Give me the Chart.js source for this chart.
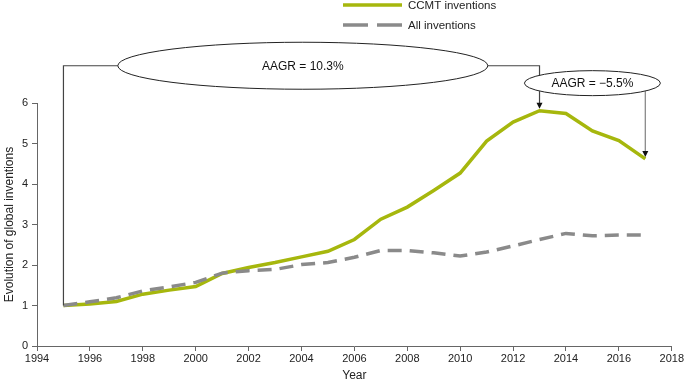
<!DOCTYPE html>
<html>
<head>
<meta charset="utf-8">
<script src="https://cdn.jsdelivr.net/npm/chart.js@4.4.1/dist/chart.umd.min.js"></script>
<style>
  body { margin: 0; background: #fff; }
  #wrap { width: 685px; height: 383px; position: relative; }
</style>
</head>
<body>
<div id="wrap"><canvas id="inv-chart"></canvas></div>
<script>
// datos (índice, 1995 = 1)
const years = [1995, 1996, 1997, 1998, 1999, 2000, 2001, 2002, 2003, 2004, 2005, 2006,
  2007, 2008, 2009, 2010, 2011, 2012, 2013, 2014, 2015, 2016, 2017];
const ccmt = [1.00, 1.04, 1.10, 1.28, 1.38, 1.47, 1.79, 1.94, 2.06, 2.20, 2.34, 2.63,
  3.13, 3.43, 3.84, 4.27, 5.06, 5.53, 5.81, 5.74, 5.31, 5.07, 4.62];
const allInv = [1.00, 1.09, 1.19, 1.36, 1.46, 1.57, 1.80, 1.86, 1.89, 2.01, 2.06, 2.19,
  2.36, 2.36, 2.30, 2.22, 2.32, 2.47, 2.63, 2.78, 2.72, 2.74, 2.74];
const seriesNames = ["CCMT inventions", "All inventions"];
const aagrLabels = ["AAGR = 10.3%", "AAGR = \u22125.5%"];

const green = "#a6b70d";
const grey = "#8a8a8a";
const FONT = "'Liberation Sans', Arial, sans-serif";

// flecha hacia abajo
function arrowDown(ctx, x, yTip) {
  ctx.beginPath();
  ctx.moveTo(x, yTip);
  ctx.lineTo(x - 3, yTip - 6);
  ctx.lineTo(x + 3, yTip - 6);
  ctx.closePath();
  ctx.fillStyle = "#111";
  ctx.fill();
}

function ellipse(ctx, cx, cy, rx, ry, label) {
  ctx.beginPath();
  ctx.ellipse(cx, cy, rx, ry, 0, 0, Math.PI * 2);
  ctx.fillStyle = "#fff";
  ctx.fill();
  ctx.lineWidth = 1;
  ctx.strokeStyle = "#222";
  ctx.stroke();
  ctx.fillStyle = "#111";
  ctx.font = "12px " + FONT;
  ctx.textAlign = "center";
  ctx.textBaseline = "middle";
  ctx.fillText(label, cx, cy + 0.5);
}

const annotations = {
  id: "annotations",
  afterDatasetsDraw(chart) {
    const { ctx, scales: { x, y } } = chart;
    const last = years.length - 1;
    const iPeak = ccmt.indexOf(Math.max(...ccmt));
    const x0 = x.getPixelForValue(years[0]), y0 = y.getPixelForValue(ccmt[0]);
    const xP = x.getPixelForValue(years[iPeak]), yP = y.getPixelForValue(ccmt[iPeak]);
    const xE = x.getPixelForValue(years[last]), yE = y.getPixelForValue(ccmt[last]);
    const yBr = y.getPixelForValue(6.92);
    const e2x = x.getPixelForValue(2015.0), e2y = y.getPixelForValue(6.49);

    ctx.save();
    // corchete del primer periodo
    ctx.strokeStyle = "#444";
    ctx.lineWidth = 1.2;
    ctx.beginPath();
    ctx.moveTo(x0, y0);
    ctx.lineTo(x0, yBr);
    ctx.lineTo(xP, yBr);
    ctx.lineTo(xP, yP - 5);
    ctx.stroke();
    arrowDown(ctx, xP, yP - 2);

    // segundo periodo
    ctx.strokeStyle = grey;
    ctx.lineWidth = 1.3;
    ctx.beginPath();
    ctx.moveTo(xE, e2y);
    ctx.lineTo(xE, yE - 5);
    ctx.stroke();
    arrowDown(ctx, xE, yE - 2);

    ellipse(ctx, x.getPixelForValue(2004.05), yBr, 185, 23.5, aagrLabels[0]);
    ellipse(ctx, e2x, e2y, 68, 12.5, aagrLabels[1]);

    // leyenda
    ctx.lineWidth = 3.5;
    ctx.strokeStyle = green;
    ctx.setLineDash([]);
    ctx.beginPath();
    ctx.moveTo(343, 5);
    ctx.lineTo(402, 5);
    ctx.stroke();
    ctx.strokeStyle = grey;
    ctx.setLineDash([25, 9]);
    ctx.beginPath();
    ctx.moveTo(343, 25);
    ctx.lineTo(402, 25);
    ctx.stroke();
    ctx.setLineDash([]);
    ctx.fillStyle = "#222";
    ctx.font = "11.5px " + FONT;
    ctx.textAlign = "left";
    ctx.textBaseline = "middle";
    ctx.fillText(seriesNames[0], 408, 6);
    ctx.fillText(seriesNames[1], 408, 26);
    ctx.restore();
  },
};

const ctx = document.getElementById("inv-chart").getContext("2d");
new Chart(ctx, {
  type: "line",
  data: {
    labels: years,
    datasets: [
      {
        label: seriesNames[1],
        data: years.map((yr, i) => ({ x: yr, y: allInv[i] })),
        borderColor: grey,
        borderWidth: 3.5,
        borderDash: [14, 8],
        pointRadius: 0,
        tension: 0,
        fill: false,
      },
      {
        label: seriesNames[0],
        data: years.map((yr, i) => ({ x: yr, y: ccmt[i] })),
        borderColor: green,
        borderWidth: 3.5,
        pointRadius: 0,
        tension: 0,
        fill: false,
      },
    ],
  },
  options: {
    responsive: true,
    maintainAspectRatio: false,
    animation: false,
    layout: { padding: { top: 103, right: 13, left: 0, bottom: 0 } },
    plugins: {
      legend: { display: false },
      tooltip: { enabled: false },
    },
    scales: {
      x: {
        type: "linear",
        min: 1994,
        max: 2018,
        ticks: {
          stepSize: 2,
          padding: 1,
          color: "#222",
          font: { size: 11, family: FONT },
          callback: (v) => String(v),
          maxRotation: 0,
        },
        grid: { drawOnChartArea: false, drawTicks: true, tickLength: 5, color: "#666" },
        border: { display: true, color: "#666", width: 1 },
        title: {
          display: true,
          text: "Year",
          color: "#222",
          font: { size: 12, family: FONT },
          padding: { top: 3, bottom: 0 },
        },
        afterFit: (scale) => { scale.height = 37; },
      },
      y: {
        min: 0,
        max: 6,
        ticks: {
          stepSize: 1,
          padding: 4,
          color: "#222",
          font: { size: 11, family: FONT },
        },
        grid: { drawOnChartArea: false, drawTicks: true, tickLength: 5, color: "#666" },
        border: { display: true, color: "#666", width: 1 },
        title: {
          display: true,
          text: "Evolution of global inventions",
          color: "#222",
          font: { size: 12, family: FONT },
          padding: { top: 2, bottom: 0 },
        },
        afterFit: (scale) => { scale.width = 37; },
      },
    },
  },
  plugins: [annotations],
});
</script>
</body>
</html>
